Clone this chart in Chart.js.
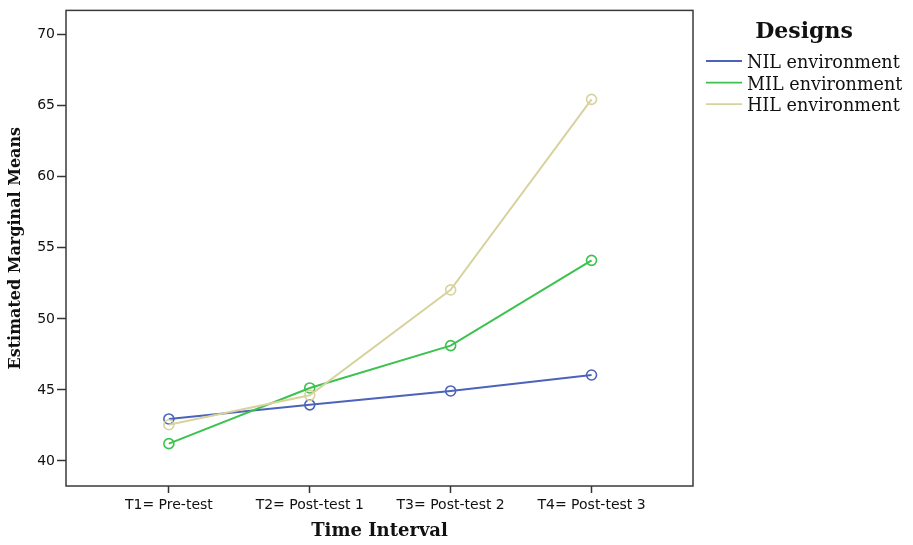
<!DOCTYPE html>
<html>
<head>
<meta charset="utf-8">
<script src="https://cdn.jsdelivr.net/npm/chart.js@4"></script>
<style>
  body { margin: 0; background: #fff; }
  #wrap { width: 913px; height: 545px; }
</style>
</head>
<body>
<div id="wrap"><canvas id="myChart" width="913" height="545"></canvas></div>
<script>
// data
const timeLabels = ["T1= Pre-test", "T2= Post-test 1", "T3= Post-test 2", "T4= Post-test 3"];
const yTicks = [40, 45, 50, 55, 60, 65, 70];
const designNames = ["NIL environment", "MIL environment", "HIL environment"];
const nilValues = [42.96, 43.95, 44.93, 46.05];
const milValues = [41.22, 45.14, 48.12, 54.12];
const hilValues = [42.55, 44.62, 52.04, 65.45];
const lineColors = ["#4b63ba", "#3cc24e", "#d8d29e"];

function toPoints(values) {
    return values.map((v, i) => ({ x: i, y: v }));
}

const allSeries = [nilValues, milValues, hilValues];

const datasets = allSeries.map((vals, i) => ({
    label: designNames[i],
    data: toPoints(vals),
    borderColor: lineColors[i],
    backgroundColor: "rgba(0,0,0,0)",
    pointBorderColor: lineColors[i],
    pointBackgroundColor: "rgba(0,0,0,0)",
    pointRadius: 5,
    pointBorderWidth: 1.6,
    borderWidth: 2,
    tension: 0,
    order: 3 - i
}));

// frame round the plot + the "Designs" legend on the right
const frameAndLegend = {
    id: "frameAndLegend",
    afterDraw(chart) {
        const ctx = chart.ctx;
        const a = chart.chartArea;
        ctx.save();
        ctx.strokeStyle = "#3a3a3a";
        ctx.lineWidth = 1.5;
        ctx.strokeRect(a.left, a.top, a.right - a.left, a.bottom - a.top);

        ctx.fillStyle = "#111";
        ctx.font = "bold 22px 'DejaVu Serif'";
        ctx.textAlign = "center";
        ctx.textBaseline = "alphabetic";
        ctx.fillText("Designs", 804, 38);

        ctx.font = "17.6px 'DejaVu Serif'";
        ctx.textAlign = "left";
        chart.data.datasets.forEach((ds, i) => {
            const y = 61 + i * 21.6;
            ctx.strokeStyle = ds.borderColor;
            ctx.lineWidth = 1.8;
            ctx.beginPath();
            ctx.moveTo(706, y);
            ctx.lineTo(742, y);
            ctx.stroke();
            ctx.fillStyle = "#111";
            ctx.fillText(ds.label, 747, y + 7);
        });
        ctx.restore();
    }
};

const ctx = document.getElementById("myChart").getContext("2d");
const myChart = new Chart(ctx, {
    type: "line",
    data: { datasets: datasets },
    plugins: [frameAndLegend],
    options: {
        responsive: false,
        animation: false,
        layout: { padding: { top: 9, right: 220, left: 0, bottom: 0 } },
        plugins: {
            legend: { display: false },
            tooltip: { enabled: false }
        },
        scales: {
            x: {
                type: "linear",
                min: -0.73,
                max: 3.72,
                afterBuildTicks: s => { s.ticks = timeLabels.map((l, i) => ({ value: i })); },
                afterFit: s => { s.height = 59; },
                border: { display: false },
                grid: { drawOnChartArea: false, drawTicks: true, tickLength: 7, tickColor: "#333", tickWidth: 1.5 },
                ticks: {
                    callback: v => timeLabels[v],
                    autoSkip: false,
                    maxRotation: 0,
                    padding: 4,
                    color: "#111",
                    font: { family: "'DejaVu Sans'", size: 14 }
                },
                title: {
                    display: true,
                    text: "Time Interval",
                    color: "#111",
                    padding: { top: 4, bottom: 3 },
                    font: { family: "'DejaVu Serif'", size: 18, weight: "bold" }
                }
            },
            y: {
                min: 38.24,
                max: 71.71,
                afterBuildTicks: s => { s.ticks = yTicks.map(v => ({ value: v })); },
                afterFit: s => { s.width = 66; },
                border: { display: false },
                grid: { drawOnChartArea: false, drawTicks: true, tickLength: 9, tickColor: "#333", tickWidth: 1.5 },
                ticks: {
                    padding: 2,
                    color: "#111",
                    font: { family: "'DejaVu Sans'", size: 14 }
                },
                title: {
                    display: true,
                    text: "Estimated Marginal Means",
                    color: "#111",
                    padding: { top: 6, bottom: 4 },
                    font: { family: "'DejaVu Serif'", size: 16, weight: "bold" }
                }
            }
        }
    }
});
</script>
</body>
</html>
